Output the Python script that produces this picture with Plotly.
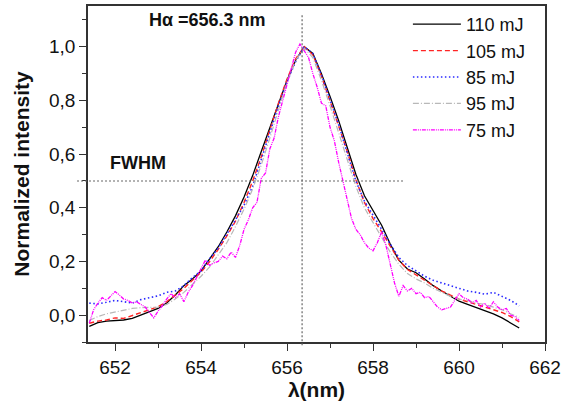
import plotly.graph_objects as go

# ---------------- data ----------------
WL = [round(651.4 + 0.2 * i, 1) for i in range(51)]          # 0.2 nm sampling grid
WL_75 = [round(651.4 + 0.1 * i, 1) for i in range(101)]      # 0.1 nm sampling grid

I_110 = [-0.042, -0.028, -0.022, -0.020, -0.018, -0.012, 0.000, 0.012, 0.025, 0.045,
         0.075, 0.110, 0.135, 0.165, 0.210, 0.255, 0.310, 0.370, 0.440, 0.520,
         0.610, 0.700, 0.790, 0.875, 0.950, 1.000, 0.975, 0.900, 0.815, 0.725,
         0.625, 0.525, 0.445, 0.390, 0.335, 0.265, 0.205, 0.172, 0.158, 0.135,
         0.110, 0.090, 0.070, 0.052, 0.040, 0.028, 0.015, 0.005, -0.010, -0.028,
         -0.048]

I_105 = [-0.030, -0.022, -0.018, -0.010, -0.012, -0.002, 0.010, 0.020, 0.032, 0.050,
         0.075, 0.100, 0.130, 0.160, 0.200, 0.245, 0.295, 0.350, 0.420, 0.500,
         0.590, 0.690, 0.790, 0.880, 0.955, 1.000, 0.970, 0.890, 0.800, 0.705,
         0.610, 0.505, 0.420, 0.360, 0.310, 0.255, 0.205, 0.170, 0.150, 0.130,
         0.110, 0.090, 0.075, 0.060, 0.050, 0.040, 0.030, 0.020, 0.010, -0.005,
         -0.025]

I_85 = [0.045, 0.042, 0.048, 0.055, 0.050, 0.045, 0.058, 0.065, 0.072, 0.085,
        0.090, 0.110, 0.140, 0.165, 0.210, 0.250, 0.300, 0.355, 0.410, 0.480,
        0.580, 0.680, 0.780, 0.870, 0.945, 1.000, 0.975, 0.895, 0.805, 0.710,
        0.605, 0.500, 0.425, 0.375, 0.320, 0.265, 0.215, 0.185, 0.165, 0.145,
        0.130, 0.120, 0.110, 0.100, 0.090, 0.085, 0.078, 0.085, 0.070, 0.055,
        0.035]

I_95 = [-0.020, -0.005, 0.005, 0.012, 0.020, 0.025, 0.028, 0.030, 0.030, 0.040,
        0.060, 0.085, 0.115, 0.145, 0.180, 0.225, 0.270, 0.330, 0.395, 0.470,
        0.560, 0.660, 0.770, 0.870, 0.950, 0.995, 0.960, 0.875, 0.780, 0.680,
        0.580, 0.480, 0.400, 0.345, 0.290, 0.235, 0.190, 0.155, 0.135, 0.120,
        0.100, 0.085, 0.070, 0.060, 0.055, 0.045, 0.040, 0.030, 0.020, 0.005,
        -0.008]

I_75 = [-0.030, 0.020, 0.045, 0.065, 0.055, 0.070, 0.088, 0.075, 0.060, 0.055,
        0.045, 0.050, 0.040, 0.030, 0.010, -0.010, 0.015, 0.035, 0.060, 0.080,
        0.065, 0.080, 0.050, 0.085, 0.110, 0.140, 0.170, 0.205, 0.185, 0.195,
        0.200, 0.220, 0.210, 0.235, 0.215, 0.260, 0.320, 0.355, 0.400, 0.420,
        0.510, 0.530, 0.620, 0.660, 0.740, 0.800, 0.870, 0.930, 0.980, 1.010,
        0.985, 0.960, 0.900, 0.850, 0.790, 0.780, 0.700, 0.650, 0.570, 0.500,
        0.420, 0.360, 0.320, 0.300, 0.270, 0.250, 0.240, 0.270, 0.310, 0.260,
        0.190, 0.120, 0.070, 0.110, 0.090, 0.100, 0.080, 0.085, 0.065, 0.070,
        0.050, 0.030, 0.020, 0.025, 0.030, 0.055, 0.080, 0.065, 0.060, 0.045,
        0.055, 0.030, 0.045, 0.025, 0.050, 0.030, 0.020, 0.025, 0.000, -0.005,
        -0.020]

X_TICKS = [652, 654, 656, 658, 660, 662]
Y_TICKS = [0.0, 0.2, 0.4, 0.6, 0.8, 1.0]
Y_TICKTEXT = ["0,0", "0,2", "0,4", "0,6", "0,8", "1,0"]

H_ALPHA = 656.35
FWHM_LEVEL = 0.5
X_RANGE = [651.37, 662.0]
Y_RANGE = [-0.1, 1.152]

FONT = "Arial, Liberation Sans, sans-serif"

# ---------------- figure ----------------
fig = go.Figure()
series = [
    ("110 mJ", WL, I_110, dict(color="#000000", width=1.3, dash="solid")),
    ("105 mJ", WL, I_105, dict(color="#ff2424", width=1.4, dash="5px,3px")),
    ("85 mJ", WL, I_85, dict(color="#2a2aff", width=1.6, dash="1.5px,2.5px")),
    ("95 mJ", WL, I_95, dict(color="#b8b8b8", width=1.2, dash="6px,2px,1px,2px")),
    ("75 mJ", WL_75, I_75, dict(color="#ff00ff", width=1.3, dash="4px,1px,1px,1px,1px,1px")),
]
for name, x, y, line in series:
    fig.add_trace(go.Scatter(x=x, y=y, mode="lines", name=name, line=line))


def px(xv):
    return (xv - X_RANGE[0]) / (X_RANGE[1] - X_RANGE[0])


def py(yv):
    return (yv - Y_RANGE[0]) / (Y_RANGE[1] - Y_RANGE[0])


dot_line = dict(color="#666666", width=1.2, dash="2px,2px")
# vertical H-alpha line
fig.add_shape(type="line", xref="paper", yref="paper",
              x0=px(H_ALPHA), x1=px(H_ALPHA), y0=-0.01, y1=py(1.118), line=dot_line)
# horizontal FWHM line
fig.add_shape(type="line", xref="paper", yref="paper",
              x0=-0.024, x1=px(658.7), y0=py(FWHM_LEVEL), y1=py(FWHM_LEVEL), line=dot_line)

fig.add_annotation(x=652.74, y=1.10, xref="x", yref="y", text="<b>Hα =656.3 nm</b>",
                   showarrow=False, xanchor="left", yanchor="middle",
                   font=dict(family=FONT, size=18, color="#111111"))
fig.add_annotation(x=651.84, y=0.567, xref="x", yref="y", text="<b>FWHM</b>",
                   showarrow=False, xanchor="left", yanchor="middle",
                   font=dict(family=FONT, size=18, color="#111111"))

axis_common = dict(showline=True, linecolor="#333333", linewidth=1.5, mirror=True,
                   showgrid=False, zeroline=False, ticks="outside", ticklen=7,
                   tickwidth=1.3, tickcolor="#333333",
                   tickfont=dict(family=FONT, size=19, color="#111111"))

fig.update_xaxes(range=X_RANGE, tickvals=X_TICKS,
                 minor=dict(dtick=1, ticks="outside", ticklen=4, tickwidth=1.2,
                            tickcolor="#333333", showgrid=False),
                 title=dict(text="<b>λ(nm)</b>", font=dict(family=FONT, size=21, color="#111111"),
                            standoff=5),
                 **axis_common)
fig.update_yaxes(range=Y_RANGE, tickvals=Y_TICKS, ticktext=Y_TICKTEXT,
                 minor=dict(tickvals=[-0.1, 0.1, 0.3, 0.5, 0.7, 0.9, 1.1], ticks="outside",
                            ticklen=4, tickwidth=1.2, tickcolor="#333333", showgrid=False),
                 title=dict(text="<b>Normalized intensity</b>",
                            font=dict(family=FONT, size=21, color="#111111"), standoff=14),
                 **axis_common)

fig.update_layout(
    width=562, height=405,
    margin=dict(l=88, r=17, t=6, b=63, autoexpand=False),
    paper_bgcolor="white", plot_bgcolor="white",
    font=dict(family=FONT, size=18, color="#111111"),
    legend=dict(x=0.70, y=1.0, xanchor="left", yanchor="top",
                bgcolor="rgba(0,0,0,0)", borderwidth=0,
                font=dict(family=FONT, size=18, color="#111111"),
                itemwidth=48, tracegroupgap=0),
    showlegend=True,
)

fig.write_html(
    "out.html",
    config={"displayModeBar": False},
    post_script="document.body.style.margin='0';document.body.style.overflow='hidden';",
)
